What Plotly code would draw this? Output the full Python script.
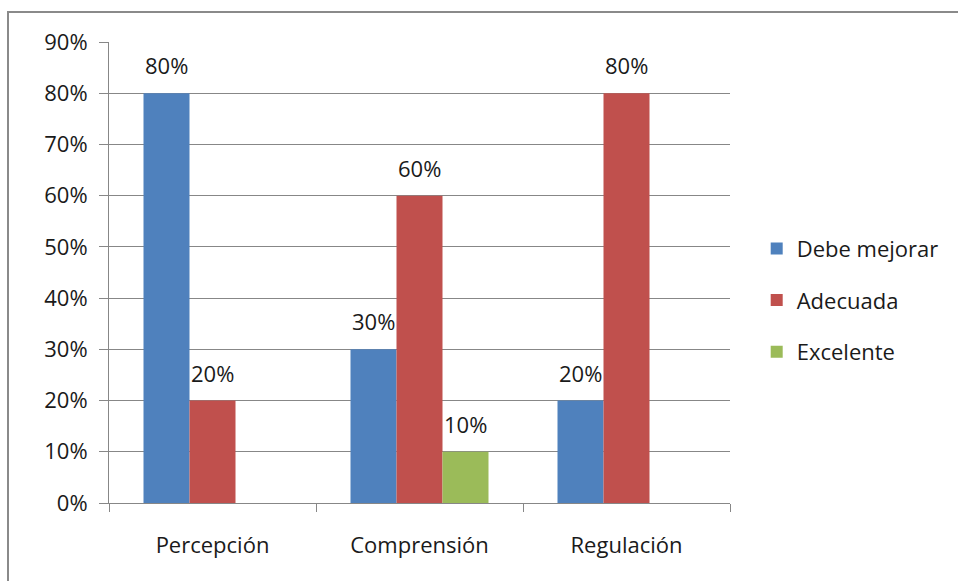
import plotly.graph_objects as go

# Data
categories = ["Percepción", "Comprensión", "Regulación"]
series_names = ["Debe mejorar", "Adecuada", "Excelente"]
debe_mejorar = [0.80, 0.30, 0.20]
adecuada = [0.20, 0.60, 0.80]
excelente = [0.00, 0.10, 0.00]
y_tick_vals = [0.0, 0.1, 0.2, 0.3, 0.4, 0.5, 0.6, 0.7, 0.8, 0.9]

series_values = [debe_mejorar, adecuada, excelente]
colors = ["#4F81BD", "#C0504D", "#9BBB59"]

FONT = "Open Sans"
FSIZE = 22
TEXT_COLOR = "#1a1a1a"
GRID = "#878787"
BARGAP = 1 / 3

fig = go.Figure()
for i, (name, vals, col) in enumerate(zip(series_names, series_values, colors)):
    fig.add_trace(go.Bar(
        x=categories, y=vals, name=name,
        marker=dict(color=col, line=dict(width=0)),
        legendgroup=name,
    ))

# Value labels above each non-zero bar
n = len(series_values)
bar_w = (1 - BARGAP) / n
annotations = []
for i, vals in enumerate(series_values):
    for j, v in enumerate(vals):
        if v <= 0:
            continue
        annotations.append(dict(
            x=j + (i - (n - 1) / 2) * bar_w, y=v, xref="x", yref="y",
            text=f"{v:.0%}", showarrow=False,
            yanchor="bottom", xanchor="center", yshift=11,
            font=dict(family=FONT, size=FSIZE, color=TEXT_COLOR),
        ))

fig.update_layout(
    width=958, height=581,
    margin=dict(l=109, r=228, t=42, b=78),
    paper_bgcolor="white", plot_bgcolor="white",
    barmode="group", bargap=BARGAP, bargroupgap=0,
    font=dict(family=FONT, size=FSIZE, color=TEXT_COLOR),
    showlegend=True,
    legend=dict(
        x=1.043, y=0.44, xanchor="left", yanchor="middle",
        traceorder="grouped", tracegroupgap=20,
        font=dict(family=FONT, size=FSIZE, color=TEXT_COLOR),
        itemsizing="constant", itemwidth=30,
    ),
    annotations=annotations,
    shapes=[dict(
        type="rect", xref="paper", yref="paper",
        x0=(8 - 109) / 621, x1=1.6, y0=-0.5, y1=(503 - 12) / 461,
        line=dict(color="#8a8a8a", width=2), fillcolor="rgba(0,0,0,0)",
        layer="below",
    )],
)

fig.update_yaxes(
    range=[0, 0.9], tickvals=y_tick_vals, tickformat=".0%",
    showgrid=True, gridcolor=GRID, gridwidth=1,
    showline=True, linecolor=GRID, linewidth=1,
    ticks="outside", ticklen=9, tickcolor=GRID,
    zeroline=False, ticklabelstandoff=7,
)
fig.update_xaxes(
    type="category", tickson="boundaries",
    showline=True, linecolor=GRID, linewidth=1,
    ticks="outside", ticklen=8, tickcolor=GRID,
    showgrid=False, ticklabelstandoff=23,
)

fig.write_html("out.html")
